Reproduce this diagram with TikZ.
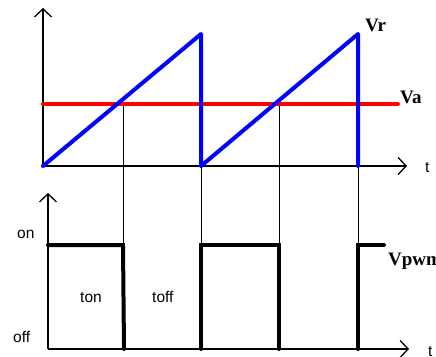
\documentclass[tikz,border=0pt]{standalone}
\usepackage{fontspec}
\setmainfont{Liberation Serif}
\setsansfont{Liberation Sans}
\usetikzlibrary{arrows.meta}
\begin{document}
\begin{tikzpicture}[x=1pt,y=-1pt,
  axis/.style={line width=1.3pt,-{Straight Barb[length=8pt,width=17pt,line width=1.3pt]}},
  thin/.style={line width=0.7pt},
  ramp/.style={blue,line width=4pt,line cap=round,line join=round},
  ref/.style={red,line width=4pt,line cap=round},
  pulse/.style={line width=4pt,line cap=round,line join=miter},
  lab/.style={font=\sffamily\fontsize{15.5}{18}\selectfont,inner sep=0pt,anchor=base west},
  blab/.style={font=\bfseries\fontsize{19}{22}\selectfont,inner sep=0pt,anchor=base west}]
\useasboundingbox (0,0) rectangle (436,356);
% coordinates
\coordinate (o1) at (43,166);
\coordinate (y1) at (43,8);
\coordinate (x1) at (407,166);
\coordinate (p1) at (201,34);
\coordinate (b1) at (201,166);
\coordinate (p2) at (358,34);
\coordinate (b2) at (358,166);
\coordinate (r0) at (43,104);
\coordinate (r1) at (398,104);
\coordinate (c1) at (123,104);
\coordinate (c2) at (279,104);
\coordinate (o2) at (48,349);
\coordinate (y2) at (48,193);
\coordinate (x2) at (409,349);
\coordinate (h0) at (48,245);
\coordinate (h1) at (123,245);
\coordinate (l1) at (124,349);
\coordinate (l2) at (201,349);
\coordinate (h2) at (201,245);
\coordinate (h3) at (279,245);
\coordinate (l3) at (279,349);
\coordinate (l4) at (358,349);
\coordinate (h4) at (358,245);
\coordinate (h5) at (384,245);
% thin guide lines
\draw[thin] (c1) -- (h1);
\draw[thin] (b1) -- (h2);
\draw[thin] (c2) -- (h3);
\draw[thin] (b2) -- (h4);
% axes
\draw[axis] (o1) -- (y1);
\draw[axis] (o1) -- (x1);
\draw[axis] (o2) -- (y2);
\draw[axis] (o2) -- (x2);
% signals
\draw[ref] (r0) -- (r1);
\draw[ramp] (o1) -- (p1) -- (b1) -- (p2) -- (b2);
\draw[pulse] (h0) -- (h1) -- (l1);
\draw[pulse] (l2) -- (h2) -- (h3) -- (l3);
\draw[pulse] (l4) -- (h4) -- (h5);
% labels
\node[lab] (t1) at (425,172) {t};
\node[lab] (t2) at (428,356) {t};
\node[lab] (on) at (17,238) {on};
\node[lab] (off) at (13,342) {off};
\node[lab] (ton) at (80,302) {ton};
\node[lab] (toff) at (152,302) {toff};
\node[blab] (vr) at (365,31) {Vr};
\node[blab] (va) at (400,103) {Va};
\node[blab] (vpwm) at (388,265) {Vpwm};
\end{tikzpicture}
\end{document}
